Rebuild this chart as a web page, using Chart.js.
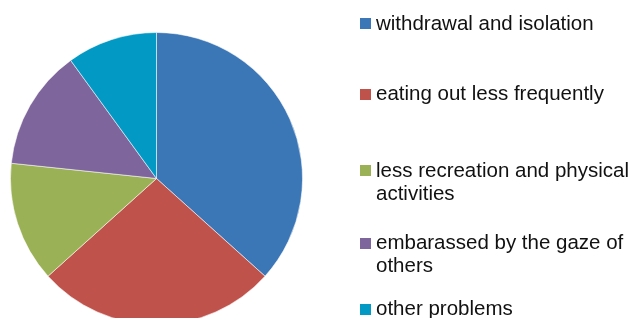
<!DOCTYPE html>
<html>
<head>
<meta charset="utf-8">
<script src="https://cdn.jsdelivr.net/npm/chart.js@4.4.1/dist/chart.umd.min.js"></script>
<style>
  html, body { margin: 0; padding: 0; width: 632px; height: 318px; overflow: hidden; background: #fff; }
  #wrap { position: absolute; left: 10px; top: 32px; width: 293px; height: 293px; }
  #legend { position: absolute; left: 0; top: 0; width: 632px; height: 318px; font-family: "Liberation Sans", Arial, sans-serif; font-size: 20.5px; line-height: 23px; color: #111; }
  .item { position: absolute; left: 360px; width: 272px; }
  .sw { position: absolute; left: 0; top: 7.5px; width: 11px; height: 11px; }
  .tx { position: absolute; left: 16px; width: 262px; }
</style>
</head>
<body>
<div id="wrap"><canvas id="c" width="293" height="293"></canvas></div>
<div id="legend"></div>
<script>
const categories = [
  "withdrawal and isolation",
  "eating out less frequently",
  "less recreation and physical activities",
  "embarassed by the gaze of others",
  "other problems"
];
const values = [11, 8, 4, 4, 3];
const colors = ["#3B76B6", "#BF524B", "#9BB155", "#7E659C", "#0399C5"];
const legendTops = [10.5, 81, 157.5, 230, 296];

const chart = new Chart(document.getElementById('c'), {
  type: 'pie',
  data: {
    labels: categories,
    datasets: [{
      data: values,
      backgroundColor: colors,
      borderColor: 'rgba(255,255,255,0.55)',
      borderWidth: 1
    }]
  },
  options: {
    responsive: false,
    animation: false,
    events: [],
    layout: { padding: 0 },
    plugins: { legend: { display: false }, tooltip: { enabled: false } }
  }
});

const lg = document.getElementById('legend');
categories.forEach((c, i) => {
  const it = document.createElement('div');
  it.className = 'item';
  it.style.top = legendTops[i] + 'px';
  const sw = document.createElement('div');
  sw.className = 'sw';
  sw.style.background = colors[i];
  const tx = document.createElement('div');
  tx.className = 'tx';
  tx.textContent = c;
  it.appendChild(sw);
  it.appendChild(tx);
  lg.appendChild(it);
});
</script>
</body>
</html>
